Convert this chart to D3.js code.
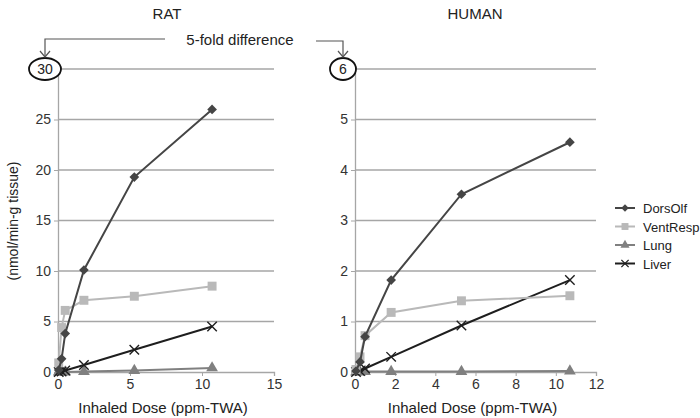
<!DOCTYPE html>
<html>
<head>
<meta charset="utf-8">
<script src="https://cdn.jsdelivr.net/npm/d3@7"></script>
<style>
	body { margin: 0; background: #fff; }
	svg { font-family: "Liberation Sans", Arial, sans-serif; }
</style>
</head>
<body>
<main></main>
<script>
// DATA
const doses = [0.05, 0.25, 0.5, 1.8, 5.3, 10.7];
const seriesNames = ["DorsOlf", "VentResp", "Lung", "Liver"];
// rat values (nmol/min-g tissue)
const ratDorsOlf = [0.2, 1.3, 3.8, 10.1, 19.3, 26.0];
const ratVentResp = [0.9, 4.4, 6.1, 7.1, 7.5, 8.5];
const ratLung = [0.0, 0.0, 0.0, 0.05, 0.15, 0.4];
const ratLiver = [0.0, 0.05, 0.15, 0.7, 2.2, 4.5];
// human values
const humanDorsOlf = [0.02, 0.2, 0.7, 1.82, 3.52, 4.55];
const humanVentResp = [0.05, 0.3, 0.72, 1.18, 1.41, 1.51];
const humanLung = [0.0, 0.0, 0.01, 0.01, 0.01, 0.02];
const humanLiver = [0.0, 0.02, 0.07, 0.3, 0.92, 1.82];
// ticks
const ratXTicks = [0, 5, 10, 15];
const ratYTicks = [0, 5, 10, 15, 20, 25, 30];
const humanXTicks = [0, 2, 4, 6, 8, 10, 12];
const humanYTicks = [0, 1, 2, 3, 4, 5, 6];

// styles
const colors = { DorsOlf: "#454545", VentResp: "#b9b9b9", Lung: "#808080", Liver: "#1e1e1e" };
const symbols = { DorsOlf: d3.symbolDiamond2, VentResp: d3.symbolSquare, Lung: d3.symbolTriangle, Liver: d3.symbolX };
const sizes = { DorsOlf: 60, VentResp: 80, Lung: 60, Liver: 60 };

const w = 700, h = 418;
const svg = d3.select("main").append("svg").attr("width", w).attr("height", h);

// one panel
function drawPanel(opt) {
	const xScale = d3.scaleLinear().domain(opt.xDomain).range(opt.xRange);
	const yScale = d3.scaleLinear().domain(opt.yDomain).range([372, 69]);
	const g = svg.append("g");

	// grid lines
	g.selectAll("line.grid").data(opt.yTicks.slice(1)).enter().append("line")
		.attr("x1", opt.xRange[0]).attr("x2", opt.xRange[1])
		.attr("y1", d => yScale(d)).attr("y2", d => yScale(d))
		.attr("stroke", "#a6a6a6").attr("stroke-width", 1.3);

	// axes
	const xAxis = d3.axisBottom(xScale).tickValues(opt.xTicks).tickSize(4).tickPadding(3).tickFormat(d3.format("d"));
	const xg = g.append("g").attr("transform", "translate(0," + yScale(0) + ")").call(xAxis);
	const yAxis = d3.axisLeft(yScale).tickValues(opt.yTicks).tickSize(4).tickPadding(3).tickFormat(d3.format("d"));
	const yg = g.append("g").attr("transform", "translate(" + opt.xRange[0] + ",0)").call(yAxis);
	[xg, yg].forEach(a => {
		a.select(".domain").attr("stroke", "#a6a6a6").attr("stroke-width", 1.3);
		a.selectAll(".tick line").attr("stroke", "#a6a6a6");
		a.selectAll(".tick text").attr("fill", "#333").style("font-size", "14px")
			.style("font-family", "Liberation Sans, Arial, sans-serif");
	});
	// the top y tick is drawn inside the ellipse
	yg.selectAll(".tick").filter(d => d === opt.yTicks[opt.yTicks.length - 1]).select("text").remove();

	// lines and markers
	const line = d3.line().x(d => xScale(d[0])).y(d => yScale(d[1]));
	opt.series.forEach(s => {
		const pts = doses.map((x, i) => [x, s.values[i]]);
		g.append("path").datum(pts).attr("d", line).attr("fill", "none")
			.attr("stroke", colors[s.name]).attr("stroke-width", 2);
		g.selectAll(null).data(pts).enter().append("path")
			.attr("transform", d => "translate(" + xScale(d[0]) + "," + yScale(d[1]) + ")")
			.attr("d", d3.symbol().type(symbols[s.name]).size(sizes[s.name]))
			.attr("fill", s.name === "Liver" ? "none" : colors[s.name])
			.attr("stroke", colors[s.name]).attr("stroke-width", s.name === "Liver" ? 1.4 : 0);
	});

	// titles
	g.append("text").attr("x", opt.titleX).attr("y", 19).attr("text-anchor", "middle")
		.style("font-size", "15px").attr("fill", "#222").text(opt.title);
	g.append("text").attr("x", (opt.xRange[0] + opt.xRange[1]) / 2 - 3).attr("y", 413).attr("text-anchor", "middle")
		.style("font-size", "15px").attr("fill", "#222").text("Inhaled Dose (ppm-TWA)");

	// circled top value
	g.append("ellipse").attr("cx", opt.ellipseX).attr("cy", yScale(opt.yDomain[1]))
		.attr("rx", opt.rx).attr("ry", 11).attr("fill", "#fff").attr("stroke", "#111").attr("stroke-width", 1.8);
	g.append("text").attr("x", opt.ellipseX).attr("y", yScale(opt.yDomain[1]) + 5).attr("text-anchor", "middle")
		.style("font-size", "14px").attr("fill", "#222").text(opt.yTicks[opt.yTicks.length - 1]);
	return g;
}

drawPanel({
	title: "RAT", titleX: 167,
	xDomain: [0, 15], xRange: [58, 274], yDomain: [0, 30],
	xTicks: ratXTicks, yTicks: ratYTicks, ellipseX: 45, rx: 16,
	series: [
		{ name: "Lung", values: ratLung },
		{ name: "Liver", values: ratLiver },
		{ name: "VentResp", values: ratVentResp },
		{ name: "DorsOlf", values: ratDorsOlf }
	]
});
drawPanel({
	title: "HUMAN", titleX: 475,
	xDomain: [0, 12], xRange: [355, 596], yDomain: [0, 6],
	xTicks: humanXTicks, yTicks: humanYTicks, ellipseX: 343, rx: 13,
	series: [
		{ name: "Lung", values: humanLung },
		{ name: "Liver", values: humanLiver },
		{ name: "VentResp", values: humanVentResp },
		{ name: "DorsOlf", values: humanDorsOlf }
	]
});

// y axis title
svg.append("text").attr("transform", "translate(18,221) rotate(-90)").attr("text-anchor", "middle")
	.style("font-size", "14px").attr("fill", "#222").text("(nmol/min-g tissue)");

// 5-fold difference annotation
svg.append("text").attr("x", 240).attr("y", 45).attr("text-anchor", "middle")
	.style("font-size", "15px").attr("fill", "#222").text("5-fold difference");
const arrowColor = "#555";
svg.append("path").attr("d", "M165,39 H45 V57").attr("fill", "none").attr("stroke", arrowColor).attr("stroke-width", 1.2);
svg.append("path").attr("d", "M316,41 H343 V57").attr("fill", "none").attr("stroke", arrowColor).attr("stroke-width", 1.2);
svg.append("path").attr("d", "M40,51 L45,57 L50,51").attr("fill", "none").attr("stroke", arrowColor).attr("stroke-width", 1.2);
svg.append("path").attr("d", "M338,51 L343,57 L348,51").attr("fill", "none").attr("stroke", arrowColor).attr("stroke-width", 1.2);

// legend
const legend = svg.append("g").attr("transform", "translate(615,208)");
const rows = legend.selectAll("g").data(seriesNames).enter().append("g")
	.attr("transform", (d, i) => "translate(0," + i * 18.5 + ")");
rows.append("line").attr("x1", 0).attr("x2", 20).attr("stroke", d => colors[d]).attr("stroke-width", 2);
rows.append("path").attr("transform", "translate(10,0)")
	.attr("d", d => d3.symbol().type(symbols[d]).size(sizes[d] * 0.6)())
	.attr("fill", d => d === "Liver" ? "none" : colors[d])
	.attr("stroke", d => colors[d]).attr("stroke-width", d => d === "Liver" ? 1.3 : 0);
rows.append("text").attr("x", 28).attr("y", 5).style("font-size", "13px").attr("fill", "#222").text(d => d);
</script>
</body>
</html>
